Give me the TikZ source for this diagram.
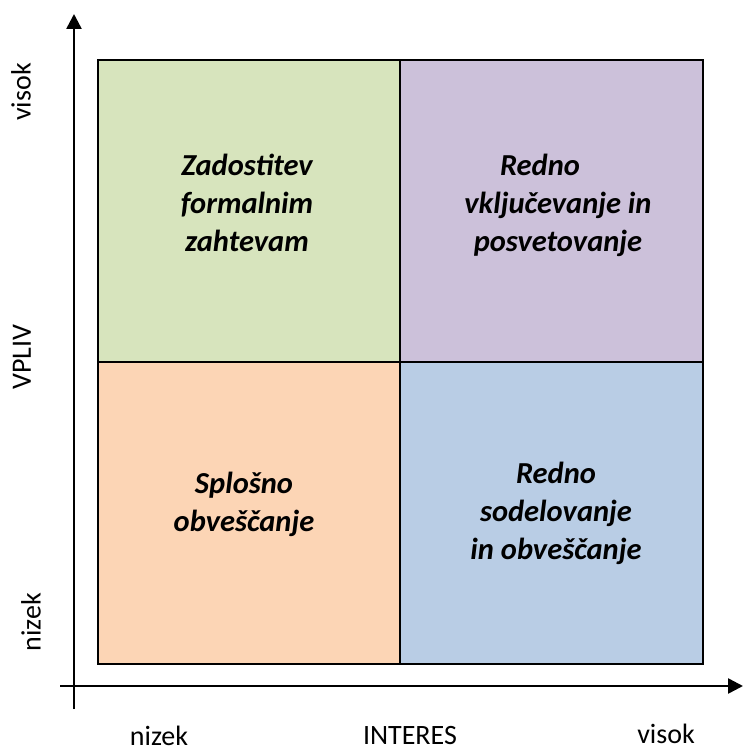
\documentclass[tikz,border=0pt]{standalone}
\usepackage{fontspec}
\setmainfont{Carlito}
\usepackage{xcolor}
\usetikzlibrary{arrows.meta}
\definecolor{qgreen}{HTML}{D7E4BD}
\definecolor{qpurple}{HTML}{CCC1DA}
\definecolor{qorange}{HTML}{FCD5B5}
\definecolor{qblue}{HTML}{B9CDE5}

\begin{document}
\begin{tikzpicture}[x=1pt,y=-1pt,axis/.style={line width=2.5pt,-{Triangle[width=15pt,length=15pt]}},quad/.style={draw,line width=2.2pt},qtext/.style={font=\fontsize{30.5}{38}\selectfont\bfseries\itshape,align=center,inner sep=0pt},alabel/.style={font=\fontsize{28}{32}\selectfont,inner sep=0pt}]
\useasboundingbox (0,0) rectangle (744,751);
% quadrants
\foreach \x/\y/\u/\v/\c in %
{98/60/400/362/qgreen,400/60/703/362/qpurple,98/362/400/664/qorange,400/362/703/664/qblue} {
   \fill[\c] (\x,\y) rectangle (\u,\v);
}
\draw[quad] (98,60) rectangle (703,664);
\draw[quad] (400,60) -- (400,664) (98,362) -- (703,362);
\node[qtext] (formal) at (247,203) {Zadostitev\\formalnim\\zahtevam};
\node[qtext] (posvet) at (558,205) {Redno\hspace*{36pt}\\vključevanje in\\posvetovanje};
\node[qtext] (splosno) at (244,504) {Splošno\\obveščanje};
\node[qtext] (sodel) at (556,513) {Redno\\sodelovanje\\in obveščanje};
% axes
\coordinate (yfoot) at (74,709);
\coordinate (ytip) at (74,14);
\coordinate (xfoot) at (60,686);
\coordinate (xtip) at (743,686);
\draw[axis] (yfoot) -- (ytip);
\draw[axis] (xfoot) -- (xtip);
\node[alabel,rotate=90] (vlow) at (31,622) {nizek};
\node[alabel,rotate=90] (vname) at (22,357) {VPLIV};
\node[alabel,rotate=90] (vhigh) at (21,92) {visok};
\node[alabel,anchor=base] (ilow) at (159,745) {nizek};
\node[alabel,anchor=base] (iname) at (410,744) {INTERES};
\node[alabel,anchor=base] (ihigh) at (666,743) {visok};
\end{tikzpicture}
\end{document}
